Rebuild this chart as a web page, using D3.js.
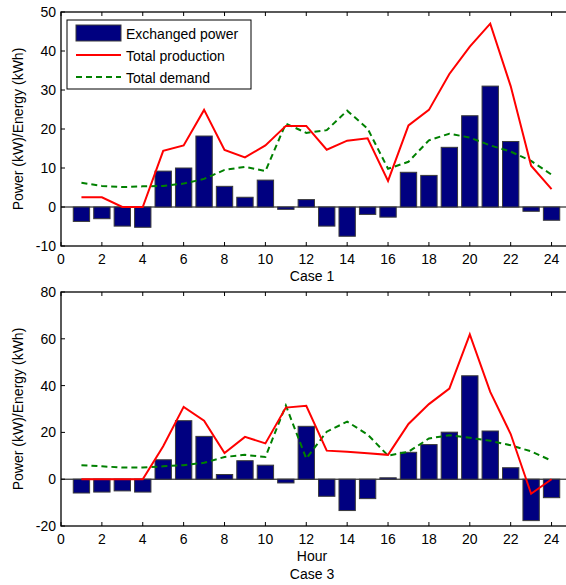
<!DOCTYPE html>
<html><head><meta charset="utf-8">
<script src="https://cdn.jsdelivr.net/npm/d3@7"></script>
<style>
body{margin:0;background:#fff;}
svg{display:block;font-family:"Liberation Sans",Arial,sans-serif;}
</style></head>
<body><svg id="c" width="566" height="585"></svg>
<script>
const hours = d3.range(1, 25);
const xTicks = [0,2,4,6,8,10,12,14,16,18,20,22,24];
const legendLabels = ["Exchanged power","Total production","Total demand"];

const case1Exchange = [-3.7,-3.0,-4.9,-5.2,9.2,10.0,18.2,5.3,2.5,6.9,-0.6,1.9,-4.9,-7.5,-1.9,-2.6,8.9,8.1,15.3,23.4,31.0,16.8,-1.1,-3.4];
const case1Production = [2.5,2.5,0,0,14.4,15.8,24.9,14.6,12.7,15.8,20.8,20.8,14.7,17.0,17.6,6.7,20.9,24.9,34.1,41.1,47.0,31.0,10.6,4.6];
const case1Demand = [6.2,5.4,5.1,5.3,5.4,6.0,7.2,9.5,10.3,9.2,21.4,19.0,19.7,24.7,20.1,9.8,11.6,17.1,18.8,17.8,15.8,14.2,11.8,8.3];
const case1YTicks = [-10,0,10,20,30,40,50];

const case3Exchange = [-5.9,-5.5,-5.0,-5.5,8.3,25.0,18.3,2.0,7.9,6.0,-1.6,22.6,-7.3,-13.4,-8.3,0.6,11.5,14.8,20.1,44.2,20.6,4.9,-17.7,-7.9];
const case3Production = [0,0,0,0,14.1,30.9,25.0,11.2,18.1,15.3,30.6,31.4,12.2,11.7,11.1,10.4,23.6,32.1,38.7,61.9,37.3,19.3,-6.2,0];
const case3Demand = [6.0,5.5,5.0,5.0,5.5,6.0,7.0,9.5,10.4,9.5,31.5,8.8,20.3,24.6,19.1,10.1,11.7,17.4,18.8,17.7,16.4,14.5,11.9,7.9];
const case3YTicks = [-20,0,20,40,60,80];

const svg = d3.select("#c");
const FS = 14;
const left = 61, right = 572;

function panel(top, bottom, yDomain, yTicks, ex, prod, dem, caption, xlabel, legend) {
  const x = d3.scaleLinear().domain([0,25]).range([left, right]);
  const y = d3.scaleLinear().domain(yDomain).range([bottom, top]);
  const g = svg.append("g");
  const bw = x(0.8) - x(0);
  g.append("line").attr("x1", left).attr("x2", right).attr("y1", y(0)).attr("y2", y(0))
    .attr("stroke", "#000").attr("stroke-width", 1);
  g.selectAll("rect.bar").data(hours).enter().append("rect")
    .attr("x", (d,i) => x(d) - bw/2)
    .attr("width", bw)
    .attr("y", (d,i) => y(Math.max(0, ex[i])))
    .attr("height", (d,i) => Math.abs(y(ex[i]) - y(0)))
    .attr("fill", "#000080").attr("stroke", "#3a3a3a").attr("stroke-width", 1);
  const line = d3.line().x((d,i) => x(hours[i])).y(d => y(d));
  g.append("path").datum(dem).attr("d", line).attr("fill","none")
    .attr("stroke","#008000").attr("stroke-width",2).attr("stroke-dasharray","6,4");
  g.append("path").datum(prod).attr("d", line).attr("fill","none")
    .attr("stroke","#ff0000").attr("stroke-width",2);
  g.append("rect").attr("x", left).attr("y", top).attr("width", right-left).attr("height", bottom-top)
    .attr("fill","none").attr("stroke","#000").attr("stroke-width",1.3);
  xTicks.forEach(t => {
    g.append("line").attr("x1", x(t)).attr("x2", x(t)).attr("y1", bottom).attr("y2", bottom-4).attr("stroke","#000");
    g.append("line").attr("x1", x(t)).attr("x2", x(t)).attr("y1", top).attr("y2", top+4).attr("stroke","#000");
    g.append("text").attr("x", x(t)).attr("y", bottom + 18).attr("text-anchor","middle")
      .attr("font-size", FS).text(t);
  });
  yTicks.forEach(t => {
    g.append("line").attr("x1", left).attr("x2", left+4).attr("y1", y(t)).attr("y2", y(t)).attr("stroke","#000");
    g.append("line").attr("x1", right).attr("x2", right-4).attr("y1", y(t)).attr("y2", y(t)).attr("stroke","#000");
    g.append("text").attr("x", left - 5).attr("y", y(t) + 5).attr("text-anchor","end")
      .attr("font-size", FS).text(t);
  });
  const cy = (top + bottom) / 2;
  g.append("text").attr("transform", `translate(23,${cy}) rotate(-90)`).attr("text-anchor","middle")
    .attr("font-size", FS).text("Power (kW)/Energy (kWh)");
  let capY = bottom + 35;
  if (xlabel) {
    g.append("text").attr("x", (left+563)/2).attr("y", bottom + 35).attr("text-anchor","middle")
      .attr("font-size", FS).text(xlabel);
    capY = bottom + 53;
  }
  g.append("text").attr("x", (left+563)/2).attr("y", capY).attr("text-anchor","middle")
    .attr("font-size", FS).text(caption);
  if (legend) {
    const lg = g.append("g");
    lg.append("rect").attr("x", 67).attr("y", 20).attr("width", 184).attr("height", 69)
      .attr("fill","#fff").attr("stroke","#000").attr("stroke-width",1);
    lg.append("rect").attr("x", 76).attr("y", 25).attr("width", 45).attr("height", 16)
      .attr("fill","#000080").attr("stroke","#3a3a3a");
    lg.append("line").attr("x1",76).attr("x2",121).attr("y1",55).attr("y2",55)
      .attr("stroke","#ff0000").attr("stroke-width",2);
    lg.append("line").attr("x1",76).attr("x2",121).attr("y1",77).attr("y2",77)
      .attr("stroke","#008000").attr("stroke-width",2).attr("stroke-dasharray","6,4");
    legendLabels.forEach((l,i) => {
      lg.append("text").attr("x", 126).attr("y", 39 + i*22).attr("font-size", FS).text(l);
    });
  }
}

panel(12, 246, [-10,50], case1YTicks, case1Exchange, case1Production, case1Demand, "Case 1", null, true);
panel(292, 526, [-20,80], case3YTicks, case3Exchange, case3Production, case3Demand, "Case 3", "Hour", false);
</script></body></html>
